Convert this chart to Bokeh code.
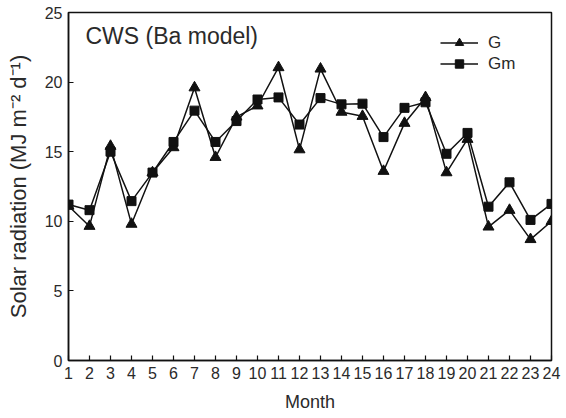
from bokeh.plotting import figure
from bokeh.models import FixedTicker, Label, Legend, LegendItem
from bokeh.embed import file_html
from bokeh.resources import INLINE

months = list(range(1, 25))
G = [11.1, 9.65, 15.4, 9.8, 13.5, 15.3, 19.6, 14.6, 17.5, 18.3, 21.05, 15.15,
     20.95, 17.85, 17.55, 13.6, 17.05, 18.9, 13.5, 15.9, 9.6, 10.8, 8.7, 10.0]
Gm = [11.2, 10.8, 15.0, 11.45, 13.5, 15.7, 17.95, 15.7, 17.2, 18.75, 18.9, 16.95,
      18.85, 18.4, 18.45, 16.05, 18.15, 18.55, 14.85, 16.35, 11.05, 12.8, 10.1, 11.25]
y_ticks = [0, 5, 10, 15, 20, 25]

FONT = "Liberation Sans"
INK = "#111111"
TXT = "#2a2a2a"

p = figure(width=566, height=418, output_backend="svg", toolbar_location=None,
           x_range=(1, 24), y_range=(0, 25),
           min_border_left=68, min_border_right=15, min_border_top=12, min_border_bottom=58)
p.xgrid.grid_line_color = None
p.ygrid.grid_line_color = None
p.outline_line_color = INK
p.outline_line_width = 1.5
p.background_fill_color = "white"
p.border_fill_color = "white"

for ax in (p.xaxis[0], p.yaxis[0]):
    ax.axis_line_color = INK
    ax.axis_line_width = 1.5
    ax.major_tick_line_color = INK
    ax.major_tick_line_width = 1.2
    ax.major_tick_in = 5
    ax.major_tick_out = 0
    ax.minor_tick_line_color = None
    ax.major_label_text_font = FONT
    ax.major_label_text_font_size = "16px"
    ax.major_label_text_color = TXT
    ax.axis_label_text_font = FONT
    ax.axis_label_text_font_style = "normal"
    ax.axis_label_text_color = TXT

p.xaxis.ticker = FixedTicker(ticks=months)
p.yaxis.ticker = FixedTicker(ticks=y_ticks)
p.xaxis.axis_label = "Month"
p.xaxis.axis_label_text_font_size = "18px"
p.xaxis.major_label_standoff = 6
p.xaxis.axis_label_standoff = 10
p.yaxis.axis_label = "Solar radiation (MJ m\u207b\u00b2 d\u207b\u00b9)"
p.yaxis.axis_label_text_font_size = "22px"
p.yaxis.major_label_standoff = 6
p.yaxis.axis_label_standoff = 11

lg = p.line(months, G, line_color=INK, line_width=1.5)
sg = p.scatter(months, G, marker="triangle", size=11, fill_color=INK, line_color=INK)
lm = p.line(months, Gm, line_color=INK, line_width=1.5)
sm = p.scatter(months, Gm, marker="square", size=9, fill_color=INK, line_color=INK)

legend = Legend(items=[LegendItem(label="G", renderers=[lg, sg]),
                       LegendItem(label="Gm", renderers=[lm, sm])],
                location=(372, 286), orientation="vertical")
legend.background_fill_alpha = 0
legend.border_line_color = None
legend.padding = 0
legend.margin = 0
legend.spacing = 0
legend.glyph_width = 38
legend.glyph_height = 21
legend.label_height = 21
legend.label_standoff = 10
legend.label_text_font = FONT
legend.label_text_font_size = "17px"
legend.label_text_color = TXT
p.add_layout(legend, "center")

title = Label(x=17, y=325, x_units="screen", y_units="screen", text="CWS (Ba model)",
              text_font=FONT, text_font_size="23px", text_color=TXT, text_baseline="middle")
p.add_layout(title)

open("out.html", "w").write(file_html(p, INLINE))
